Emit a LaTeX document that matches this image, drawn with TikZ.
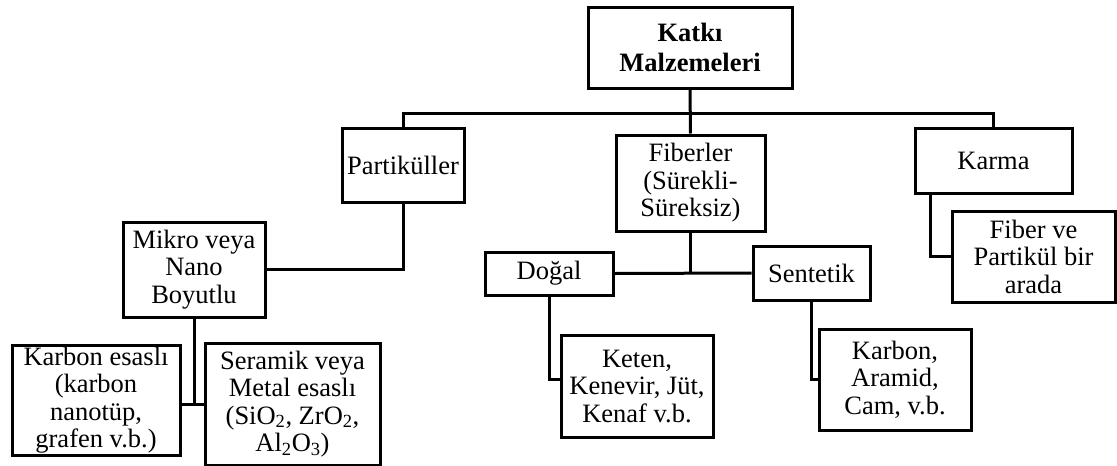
\documentclass[tikz,border=0pt]{standalone}
\usepackage{fontspec}
\setmainfont{Liberation Serif}
\usepackage{tikz}
\tikzset{kutu/.style={draw,line width=3pt,inner sep=0pt,align=center,
    font=\fontsize{26.5}{27.5}\selectfont},
  hat/.style={line width=3pt}}

\begin{document}
\begin{tikzpicture}[x=1pt,y=-1pt]
                   \useasboundingbox (0,0) rectangle (1117,466);
                   \node[kutu,minimum width=204pt,minimum height=81pt] (katki) at (690,47.5) {\textbf{Katkı}\\[3pt]\textbf{Malzemeleri}};
                   \node[kutu,minimum width=122pt,minimum height=74pt] (partikul) at (403,165) {Partiküller};
                   \node[kutu,minimum width=149pt,minimum height=96pt] (fiber) at (690.5,183) {Fiberler\\(Sürekli-\\Süreksiz)};
                   \node[kutu,minimum width=157pt,minimum height=65pt] (karma) at (993.5,160.5) {Karma};
                   \node[kutu,minimum width=142pt,minimum height=95pt] (mikro) at (194,269.5) {Mikro veya\\Nano\\Boyutlu};
                   \node[kutu,minimum width=168pt,minimum height=110pt] (karbon) at (96,400) {Karbon esaslı\\(karbon\\nanotüp,\\grafen v.b.)};
                   \node[kutu,minimum width=175pt,minimum height=122pt] (seramik) at (292.5,404) {Seramik veya\\Metal esaslı\\(SiO\textsubscript{2}, ZrO\textsubscript{2},\\Al\textsubscript{2}O\textsubscript{3})};
                   \node[kutu,minimum width=128pt,minimum height=43pt] (dogal) at (549,273.5) {Doğal};
                   \node[kutu,minimum width=117pt,minimum height=54pt] (sentetik) at (811.5,273) {Sentetik};
                   \node[kutu,minimum width=152pt,minimum height=102pt] (keten) at (637,386.5) {Keten,\\Kenevir, Jüt,\\Kenaf v.b.};
                   \node[kutu,minimum width=152pt,minimum height=101pt] (aramid) at (895,379.5) {Karbon,\\Aramid,\\Cam, v.b.};
                   \node[kutu,minimum width=163pt,minimum height=91pt] (karisik) at (1033.5,256.5) {Fiber ve\\Partikül bir\\arada};
                   \coordinate (bus) at (690,113);
                   \coordinate (mj) at (194,404);
                   \draw[hat] (katki.south) -- (fiber.north);
                   \draw[hat] (partikul.north) |- (bus) -| (karma.north);
                   \draw[hat] (partikul.south) |- (mikro.east);
                   \draw[hat] (mikro.south) -- (mj);
                   \draw[hat] (karbon.east |- mj) -- (seramik.west |- mj);
                   \draw[hat] (fiber.south) -- (fiber.south |- dogal.east);
                   \draw[hat] (dogal.east) -- (sentetik.west);
                   \draw[hat] (dogal.south) |- ([yshift=7pt]keten.west);
                   \draw[hat] (sentetik.south) |- (aramid.west);
                   \draw[hat] ([xshift=17pt]karma.south west) |- (karisik.west);
                \end{tikzpicture}
\end{document}
